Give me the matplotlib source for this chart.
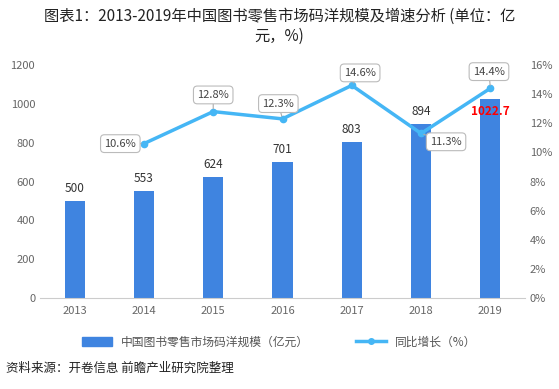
import numpy as np
from matplotlib import pyplot as plt
from matplotlib.lines import Line2D
from matplotlib.patches import Patch

plt.rcParams.update(
    {
        "font.family": ["Noto Sans CJK SC", "DejaVu Sans"],
        "font.size": 8,
    }
)

years = ["2013", "2014", "2015", "2016", "2017", "2018", "2019"]
scale = [500, 553, 624, 701, 803, 894, 1022.7]
scale_labels = ["500", "553", "624", "701", "803", "894", "1022.7"]
growth = [None, 10.6, 12.8, 12.3, 14.6, 11.3, 14.4]
growth_labels = ["", "10.6%", "12.8%", "12.3%", "14.6%", "11.3%", "14.4%"]
# label box offsets in points (dx, dy) from each point
box_offsets = [None, (-17, 0), (0, 12), (-3, 11), (6, 9), (18, -6), (-1, 12)]

bar_color = "#3F84E0"
line_color = "#45B6F5"
tick_color = "#666666"

W, H = 5.59, 3.89
fig = plt.figure(figsize=(W, H), dpi=100)
ax = fig.add_axes([40 / 559, 91 / 389, 485 / 559, 233 / 389])
ax2 = ax.twinx()

x = np.arange(len(years))
ax.bar(x, scale, width=0.29, color=bar_color, zorder=2)
ax.set_xlim(-0.5, len(years) - 0.5)
ax.set_ylim(0, 1200)
ax.set_yticks(np.arange(0, 1201, 200))
ax.set_xticks(x)
ax.set_xticklabels(years)

for i, (v, s) in enumerate(zip(scale, scale_labels)):
    if i == len(scale) - 1:
        ax.annotate(s, (i, v), xytext=(0, -9), textcoords="offset points",
                    ha="center", va="center", color="red", fontweight="bold",
                    fontsize=8.5, zorder=5)
    else:
        ax.annotate(s, (i, v), xytext=(0, 9), textcoords="offset points",
                    ha="center", va="center", color="#333333", fontsize=8.5)

gx = [i for i, g in enumerate(growth) if g is not None]
gy = [g for g in growth if g is not None]
ax2.plot(gx, gy, color=line_color, lw=2.5, marker="o", ms=4.5, zorder=3)
ax2.set_ylim(0, 16)
ax2.set_yticks(np.arange(0, 17, 2))
ax2.set_yticklabels([f"{t}%" for t in range(0, 17, 2)])

for i in gx:
    dx, dy = box_offsets[i]
    ax2.annotate(growth_labels[i], (i, growth[i]), xytext=(dx, dy),
                 textcoords="offset points", ha="center", va="center",
                 color="#444444", fontsize=8,
                 bbox=dict(boxstyle="round,pad=0.35", fc="white", ec="#BBBBBB", lw=0.8),
                 arrowprops=dict(arrowstyle="-", color="#AAAAAA", lw=0.8,
                                 shrinkA=0, shrinkB=2),
                 zorder=4)

for a in (ax, ax2):
    for side in ("top", "left", "right"):
        a.spines[side].set_visible(False)
    a.spines["bottom"].set_color("#CCCCCC")
    a.tick_params(length=0, colors=tick_color, labelsize=8)
ax.tick_params(axis="x", pad=6)
ax2.spines["bottom"].set_visible(False)

fig.text(0.5, 1 - 16 / 389, "图表1：2013-2019年中国图书零售市场码洋规模及增速分析 (单位：亿",
         ha="center", va="center", fontsize=11, color="#222222")
fig.text(0.5, 1 - 36 / 389, "元，%)", ha="center", va="center", fontsize=11, color="#222222")

handles = [Patch(color=bar_color),
           Line2D([0], [0], color=line_color, lw=2.5, marker="o", ms=4)]
fig.legend(handles, ["中国图书零售市场码洋规模（亿元）", "同比增长（%）"],
           loc="center", bbox_to_anchor=(0.5, 1 - 342 / 389), ncol=2, frameon=False,
           fontsize=8.5, handlelength=2.5, columnspacing=4, labelcolor="#555555")

fig.text(6 / 559, 1 - 368 / 389, "资料来源：开卷信息 前瞻产业研究院整理",
         ha="left", va="center", fontsize=9, color="#222222")

fig.savefig("out.png", dpi=100)
